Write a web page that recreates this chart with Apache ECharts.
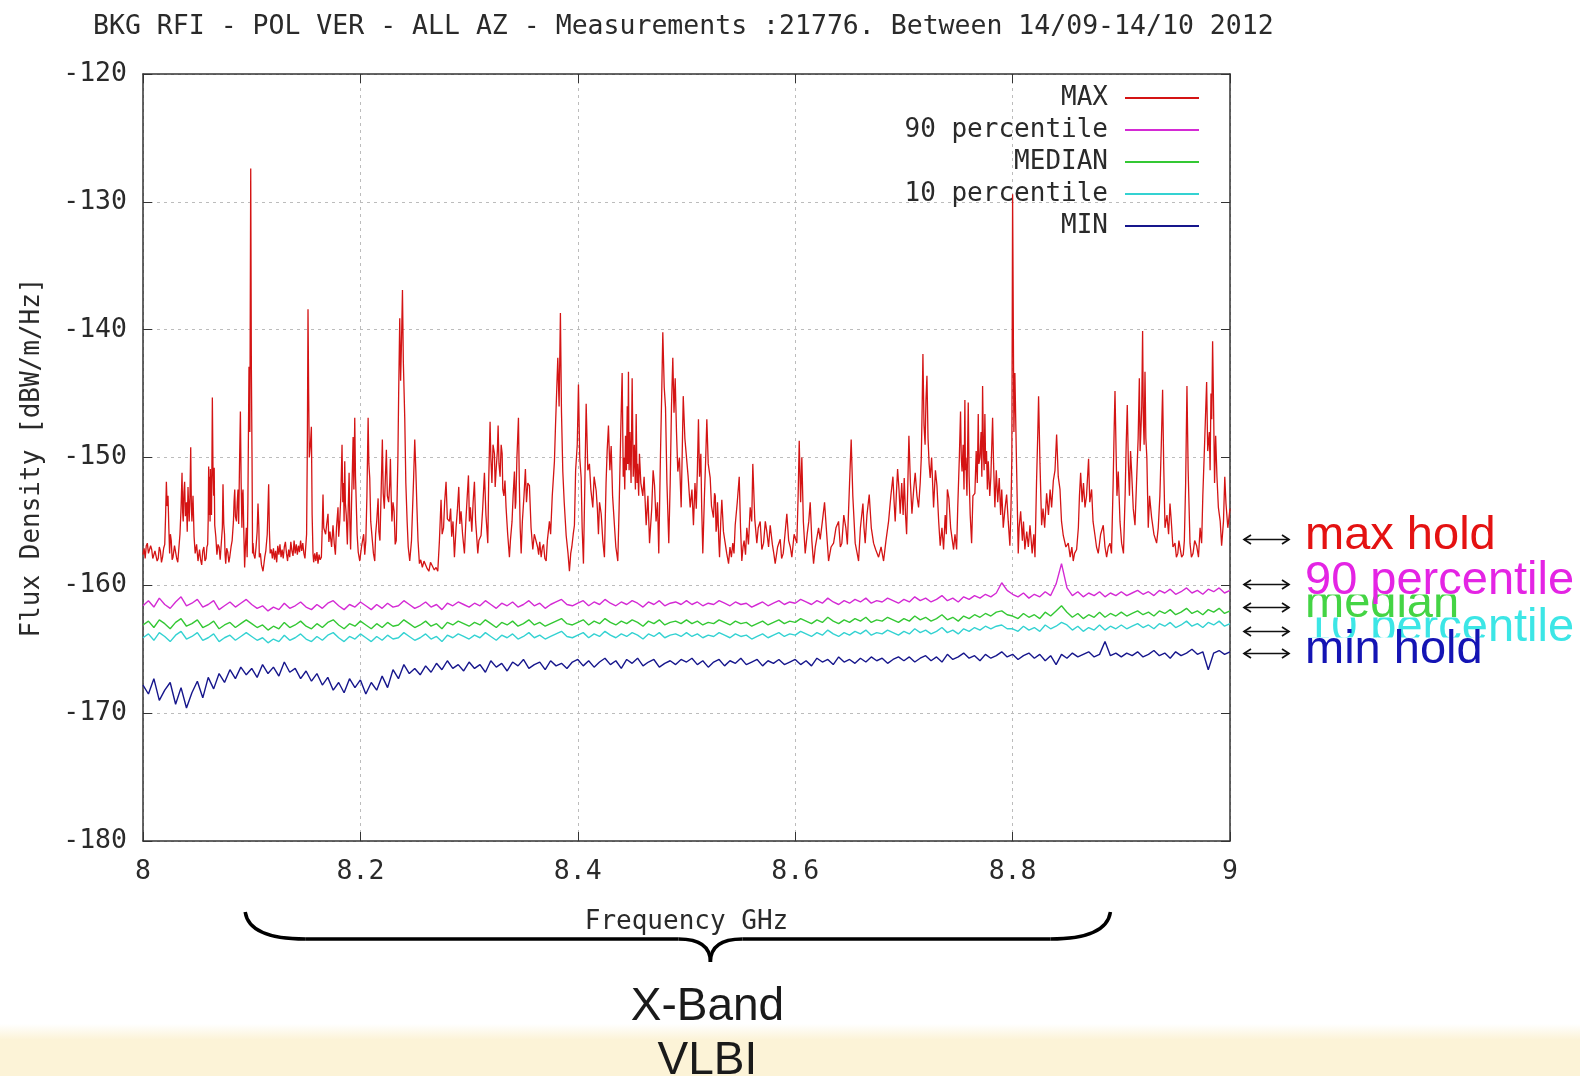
<!DOCTYPE html>
<html>
<head>
<meta charset="utf-8">
<script src="https://cdn.jsdelivr.net/npm/echarts/dist/echarts.min.js"></script>
<style>
  html, body { margin: 0; padding: 0; }
  body {
    width: 1580px; height: 1076px; overflow: hidden;
    background: linear-gradient(to bottom, #ffffff 0, #ffffff 1024px, #fcf3d7 1040px, #fcf3d7 100%);
  }
  #chart { width: 1580px; height: 1076px; }
</style>
</head>
<body>
<div id="chart"></div>
<script>
// ---- Spectrum levels, dBW/m/Hz, 8-9 GHz, vertical polarisation ----

// MAX hold: [frequency GHz, level]
const maxHold = [
  [8.000,-157.6],[8.001,-157.1],[8.002,-157.9],[8.003,-156.9],[8.004,-156.7],[8.005,-157.5],[8.006,-157.6],[8.007,-156.9],
  [8.008,-157.2],[8.009,-157.9],[8.010,-158.0],[8.011,-157.3],[8.012,-157.4],[8.013,-158.1],[8.014,-157.9],[8.015,-157.0],
  [8.016,-157.3],[8.017,-158.2],[8.018,-157.8],[8.019,-157.1],[8.020,-156.8],[8.0208,-154.5],[8.0215,-151.9],[8.0222,-153.8],
  [8.023,-153.0],[8.0238,-155.6],[8.0245,-157.5],[8.0252,-156.0],[8.026,-156.5],[8.0268,-158.0],[8.0276,-157.8],[8.029,-156.9],
  [8.030,-157.0],[8.031,-157.9],[8.032,-158.2],[8.033,-157.1],[8.034,-156.0],[8.035,-154.0],[8.0359,-151.2],[8.0365,-154.3],
  [8.037,-155.0],[8.0376,-152.8],[8.0383,-151.9],[8.039,-154.6],[8.040,-153.5],[8.0407,-155.8],[8.0414,-152.3],[8.0425,-155.0],
  [8.0432,-153.0],[8.0439,-149.2],[8.0445,-153.8],[8.045,-155.0],[8.046,-153.0],[8.047,-156.2],[8.048,-157.5],[8.0493,-156.8],
  [8.0506,-158.1],[8.052,-157.2],[8.053,-158.0],[8.054,-158.4],[8.055,-157.3],[8.056,-157.0],[8.057,-158.1],[8.058,-157.9],
  [8.0588,-157.0],[8.0595,-156.8],[8.0600,-154.8],[8.0604,-150.7],[8.0608,-154.5],[8.0612,-151.5],[8.0617,-155.0],[8.062,-150.9],
  [8.0625,-153.8],[8.063,-154.5],[8.0634,-150.5],[8.0638,-145.3],[8.0644,-151.0],[8.065,-153.0],[8.0655,-150.8],[8.066,-155.3],
  [8.067,-156.2],[8.068,-157.6],[8.069,-156.8],[8.070,-157.0],[8.071,-158.0],[8.072,-157.9],[8.073,-155.5],[8.0736,-152.1],
  [8.0743,-155.2],[8.075,-156.0],[8.0755,-157.6],[8.0761,-158.3],[8.077,-157.1],[8.078,-157.4],[8.079,-158.2],[8.0798,-157.8],
  [8.081,-157.0],[8.082,-156.5],[8.0832,-155.0],[8.0838,-153.4],[8.0844,-152.5],[8.085,-154.6],[8.086,-155.0],[8.0867,-153.5],
  [8.0874,-152.5],[8.088,-155.2],[8.0888,-150.5],[8.0896,-146.4],[8.0903,-152.0],[8.091,-155.5],[8.0915,-153.0],[8.092,-152.5],
  [8.0928,-156.0],[8.0935,-158.6],[8.0943,-156.8],[8.0951,-155.5],[8.0958,-157.8],[8.0965,-153.5],[8.0975,-142.9],[8.0983,-148.0],
  [8.0991,-127.4],[8.0997,-143.0],[8.1003,-150.0],[8.1008,-157.5],[8.1012,-156.7],[8.102,-157.6],[8.103,-157.9],[8.104,-157.0],
  [8.105,-155.8],[8.1058,-153.6],[8.1066,-155.5],[8.107,-157.8],[8.108,-157.5],[8.109,-158.4],[8.1104,-158.9],[8.112,-157.8],
  [8.113,-157.3],[8.1143,-156.0],[8.1156,-152.1],[8.1163,-155.8],[8.117,-157.5],[8.1181,-157.2],[8.119,-157.9],[8.120,-157.1],
  [8.121,-158.0],[8.122,-157.3],[8.123,-158.2],[8.124,-156.9],[8.125,-157.6],[8.126,-156.8],[8.127,-157.8],[8.128,-157.2],
  [8.129,-157.9],[8.130,-157.0],[8.131,-156.6],[8.132,-157.5],[8.133,-158.1],[8.134,-157.2],[8.135,-157.8],[8.136,-156.6],
  [8.137,-157.3],[8.138,-157.7],[8.139,-156.5],[8.140,-157.5],[8.141,-156.8],[8.142,-157.6],[8.143,-156.9],[8.144,-157.4],
  [8.145,-156.5],[8.146,-157.3],[8.147,-156.7],[8.148,-157.5],[8.149,-157.9],[8.1505,-156.0],[8.1512,-149.0],[8.1518,-138.4],
  [8.1524,-145.0],[8.153,-150.0],[8.154,-149.0],[8.1549,-147.6],[8.1556,-154.5],[8.1564,-157.5],[8.157,-158.2],[8.158,-157.5],
  [8.159,-158.1],[8.160,-157.4],[8.161,-158.3],[8.162,-157.6],[8.163,-158.0],[8.1641,-157.8],[8.1648,-155.8],[8.1656,-152.9],
  [8.1663,-155.5],[8.168,-156.0],[8.169,-155.2],[8.1702,-154.4],[8.171,-156.6],[8.172,-155.8],[8.1735,-157.0],[8.1748,-155.3],
  [8.176,-156.8],[8.177,-157.6],[8.178,-155.5],[8.1794,-153.9],[8.180,-156.2],[8.181,-155.0],[8.182,-153.0],[8.1831,-149.0],
  [8.1838,-153.5],[8.1845,-152.0],[8.185,-155.0],[8.1856,-150.3],[8.1862,-153.6],[8.187,-154.5],[8.188,-156.8],[8.1896,-151.2],
  [8.1903,-155.0],[8.191,-157.2],[8.192,-153.0],[8.1926,-151.0],[8.1933,-148.4],[8.194,-152.5],[8.1948,-146.9],[8.1955,-151.5],
  [8.197,-156.0],[8.198,-157.4],[8.1994,-158.1],[8.201,-157.0],[8.202,-157.0],[8.203,-156.0],[8.204,-157.6],[8.205,-156.5],
  [8.206,-153.0],[8.2071,-146.9],[8.2078,-150.5],[8.2086,-151.6],[8.2095,-155.0],[8.211,-156.5],[8.212,-157.5],[8.2132,-158.1],
  [8.214,-156.0],[8.215,-155.0],[8.2163,-153.2],[8.217,-155.8],[8.218,-156.5],[8.219,-153.0],[8.2202,-148.6],[8.221,-152.8],
  [8.222,-154.0],[8.223,-151.5],[8.2239,-149.4],[8.2248,-153.0],[8.226,-153.5],[8.227,-152.0],[8.2276,-150.1],[8.2283,-153.0],
  [8.229,-155.0],[8.230,-153.5],[8.231,-154.2],[8.232,-156.8],[8.233,-156.5],[8.2345,-150.0],[8.2352,-145.0],[8.2362,-139.1],
  [8.237,-144.0],[8.2378,-141.0],[8.2387,-136.9],[8.2395,-142.5],[8.2408,-146.9],[8.2418,-152.0],[8.243,-155.0],[8.244,-157.0],
  [8.2454,-158.1],[8.247,-156.5],[8.248,-154.0],[8.249,-151.5],[8.250,-148.6],[8.251,-151.0],[8.252,-153.9],[8.253,-156.5],
  [8.2543,-158.3],[8.2555,-158.0],[8.257,-158.6],[8.2585,-158.1],[8.260,-158.2],[8.2615,-158.7],[8.263,-158.9],[8.2645,-158.2],
  [8.266,-158.3],[8.268,-158.8],[8.2696,-158.6],[8.2712,-158.9],[8.2727,-156.5],[8.2742,-153.3],[8.2752,-156.0],[8.2765,-155.5],
  [8.2775,-153.5],[8.2788,-151.9],[8.280,-154.8],[8.2819,-155.0],[8.283,-154.0],[8.284,-156.2],[8.2852,-155.0],[8.2865,-157.8],
  [8.288,-155.5],[8.2893,-154.0],[8.2905,-152.3],[8.2915,-155.2],[8.2926,-154.2],[8.294,-156.0],[8.2957,-157.5],[8.297,-155.0],
  [8.2983,-153.0],[8.2994,-151.4],[8.3003,-155.0],[8.3012,-153.9],[8.3025,-155.8],[8.3037,-153.5],[8.3049,-151.9],[8.306,-155.0],
  [8.307,-156.2],[8.308,-157.5],[8.309,-156.5],[8.311,-156.1],[8.3125,-154.0],[8.3141,-151.2],[8.3155,-154.5],[8.3172,-156.7],
  [8.318,-152.0],[8.3193,-147.2],[8.320,-150.0],[8.321,-152.0],[8.322,-149.0],[8.3233,-149.7],[8.324,-152.3],[8.325,-150.8],
  [8.326,-149.5],[8.3267,-147.5],[8.3275,-150.5],[8.3285,-151.5],[8.3295,-149.0],[8.3304,-149.7],[8.331,-152.5],[8.332,-153.0],
  [8.333,-151.8],[8.334,-153.9],[8.3355,-156.0],[8.3371,-157.8],[8.338,-156.5],[8.3395,-155.0],[8.3405,-153.0],[8.3417,-151.1],
  [8.3425,-154.0],[8.343,-153.5],[8.344,-150.0],[8.3454,-146.9],[8.3462,-152.0],[8.347,-155.5],[8.3479,-157.5],[8.349,-155.0],
  [8.3505,-153.0],[8.3518,-150.9],[8.3528,-153.5],[8.354,-152.0],[8.3555,-152.2],[8.357,-155.5],[8.3586,-157.2],[8.360,-156.0],
  [8.3617,-156.1],[8.363,-157.0],[8.364,-157.6],[8.365,-156.6],[8.3663,-157.8],[8.3675,-157.0],[8.3685,-156.8],[8.3697,-157.9],
  [8.3709,-158.1],[8.372,-156.5],[8.3739,-155.0],[8.375,-156.0],[8.3765,-153.0],[8.3785,-150.3],[8.3795,-147.5],[8.3805,-145.0],
  [8.3816,-142.2],[8.3828,-146.0],[8.384,-138.7],[8.385,-146.5],[8.3862,-151.1],[8.3875,-153.5],[8.3893,-156.1],[8.391,-157.5],
  [8.3923,-158.9],[8.3935,-157.5],[8.3945,-157.0],[8.3958,-156.0],[8.3969,-155.3],[8.398,-151.0],[8.3995,-149.0],[8.4006,-144.3],
  [8.4018,-150.0],[8.4031,-151.6],[8.404,-155.5],[8.4052,-158.3],[8.4065,-152.0],[8.4077,-145.8],[8.4092,-151.0],[8.4107,-150.5],
  [8.412,-152.5],[8.4138,-153.9],[8.415,-151.5],[8.4169,-152.6],[8.418,-154.0],[8.419,-156.0],[8.420,-153.5],[8.4215,-154.4],
  [8.423,-156.5],[8.4245,-157.8],[8.426,-152.0],[8.427,-149.5],[8.4282,-147.5],[8.4295,-151.0],[8.4307,-149.1],[8.432,-153.0],
  [8.4337,-155.3],[8.435,-157.0],[8.4368,-158.1],[8.438,-154.0],[8.4395,-148.0],[8.4408,-143.4],[8.4418,-151.5],[8.4425,-150.0],
  [8.4432,-152.5],[8.4439,-148.3],[8.4447,-151.0],[8.4455,-146.0],[8.446,-150.5],[8.4466,-143.3],[8.4472,-151.0],[8.448,-148.0],
  [8.449,-152.0],[8.450,-143.8],[8.451,-151.5],[8.452,-149.0],[8.453,-152.5],[8.4537,-146.6],[8.4545,-152.0],[8.455,-150.5],
  [8.456,-153.0],[8.4567,-149.7],[8.458,-152.0],[8.4598,-153.0],[8.461,-151.5],[8.4629,-155.3],[8.4645,-153.0],[8.466,-156.7],
  [8.468,-154.0],[8.4693,-151.0],[8.4706,-152.2],[8.472,-155.0],[8.4733,-153.5],[8.4745,-157.5],[8.476,-150.0],[8.4772,-145.0],
  [8.4782,-140.2],[8.4795,-144.5],[8.4807,-146.1],[8.482,-152.0],[8.4837,-156.7],[8.485,-152.0],[8.4862,-146.0],[8.4874,-142.2],
  [8.4885,-146.5],[8.4896,-143.8],[8.4908,-148.0],[8.492,-151.1],[8.4935,-150.0],[8.4951,-153.9],[8.4962,-149.0],[8.497,-145.2],
  [8.4985,-148.5],[8.4997,-149.7],[8.5015,-151.5],[8.5034,-153.9],[8.505,-152.5],[8.5064,-155.3],[8.5078,-152.0],[8.509,-154.0],
  [8.510,-151.0],[8.511,-147.0],[8.512,-151.5],[8.5132,-149.7],[8.514,-154.0],[8.515,-157.5],[8.5165,-153.0],[8.5177,-150.0],
  [8.5187,-147.0],[8.520,-150.5],[8.5218,-151.6],[8.523,-153.8],[8.5248,-154.7],[8.5258,-152.8],[8.5265,-153.0],[8.5272,-155.8],
  [8.5279,-155.3],[8.5285,-153.5],[8.529,-154.5],[8.5297,-156.5],[8.5304,-157.8],[8.5315,-155.0],[8.5325,-153.3],[8.534,-155.8],
  [8.5356,-156.7],[8.537,-157.5],[8.5387,-158.3],[8.540,-157.0],[8.5413,-157.8],[8.5426,-156.7],[8.5437,-157.5],[8.5448,-155.3],
  [8.5467,-153.5],[8.5485,-151.5],[8.5497,-155.5],[8.5509,-158.1],[8.552,-157.0],[8.553,-156.5],[8.5543,-157.6],[8.5555,-155.5],
  [8.557,-156.8],[8.5586,-153.9],[8.560,-155.0],[8.561,-150.5],[8.5628,-154.8],[8.5647,-156.7],[8.566,-155.5],[8.5678,-155.0],
  [8.5693,-157.2],[8.5709,-156.7],[8.5725,-155.0],[8.5739,-155.8],[8.5755,-157.0],[8.577,-155.3],[8.579,-156.8],[8.5803,-157.5],
  [8.5816,-158.3],[8.5838,-157.0],[8.5862,-156.4],[8.5875,-157.9],[8.589,-157.5],[8.5906,-156.0],[8.5923,-154.4],[8.594,-156.5],
  [8.5955,-157.0],[8.5969,-157.8],[8.599,-156.0],[8.6015,-156.7],[8.6027,-153.0],[8.6037,-148.7],[8.605,-153.5],[8.6061,-150.0],
  [8.6075,-155.0],[8.6092,-157.5],[8.611,-156.0],[8.6125,-155.0],[8.6138,-153.5],[8.6153,-156.5],[8.6169,-158.3],[8.6185,-157.0],
  [8.620,-157.0],[8.6215,-155.5],[8.623,-156.4],[8.625,-155.0],[8.627,-153.5],[8.629,-156.0],[8.6307,-158.1],[8.633,-157.0],
  [8.6353,-156.7],[8.6375,-155.5],[8.6399,-155.0],[8.6415,-157.0],[8.6429,-156.7],[8.6447,-154.5],[8.6466,-155.5],[8.648,-156.8],
  [8.650,-152.0],[8.6515,-148.6],[8.653,-153.0],[8.6552,-156.7],[8.657,-157.5],[8.6583,-158.1],[8.660,-155.5],[8.6623,-153.6],
  [8.6633,-155.5],[8.6644,-156.7],[8.666,-154.5],[8.6681,-152.9],[8.670,-155.5],[8.6721,-156.7],[8.674,-157.2],[8.6767,-157.8],
  [8.679,-157.0],[8.6813,-158.1],[8.6835,-156.5],[8.6859,-155.0],[8.688,-153.0],[8.6899,-151.5],[8.691,-153.5],[8.692,-155.0],
  [8.693,-153.0],[8.6942,-150.9],[8.6955,-152.5],[8.6966,-154.4],[8.698,-152.0],[8.6993,-154.5],[8.7003,-151.6],[8.7015,-154.5],
  [8.7025,-156.0],[8.7035,-152.5],[8.7046,-148.3],[8.706,-152.0],[8.7074,-154.4],[8.709,-152.5],[8.7104,-151.2],[8.712,-153.0],
  [8.7135,-153.9],[8.715,-152.0],[8.716,-150.0],[8.7168,-146.0],[8.7175,-141.9],[8.7185,-147.5],[8.7195,-149.0],[8.7203,-145.5],
  [8.7212,-143.6],[8.7222,-148.5],[8.7232,-150.5],[8.7242,-151.6],[8.7255,-150.0],[8.7273,-153.9],[8.729,-151.0],[8.7304,-152.2],
  [8.732,-155.0],[8.7334,-156.9],[8.735,-155.5],[8.7365,-157.2],[8.738,-154.5],[8.739,-156.0],[8.740,-152.5],[8.7414,-153.2],
  [8.743,-155.5],[8.7457,-157.2],[8.747,-156.0],[8.7485,-157.2],[8.7495,-154.0],[8.751,-150.0],[8.7521,-146.4],[8.7528,-150.0],
  [8.7535,-151.1],[8.7545,-149.0],[8.7553,-152.5],[8.7561,-145.5],[8.7566,-151.0],[8.757,-150.0],[8.758,-153.0],[8.7592,-145.7],
  [8.760,-151.5],[8.761,-154.5],[8.7623,-156.7],[8.7635,-153.0],[8.7653,-152.8],[8.7665,-149.5],[8.7675,-152.0],[8.7684,-146.6],
  [8.769,-150.5],[8.770,-150.0],[8.771,-148.0],[8.7717,-151.5],[8.7724,-144.4],[8.7732,-149.5],[8.7738,-151.0],[8.7745,-146.6],
  [8.7752,-150.5],[8.776,-149.5],[8.7768,-152.5],[8.7776,-150.3],[8.779,-153.0],[8.780,-151.5],[8.7816,-146.9],[8.7825,-150.5],
  [8.7837,-153.9],[8.785,-151.0],[8.7863,-153.5],[8.7877,-151.6],[8.789,-154.5],[8.790,-152.5],[8.7914,-155.5],[8.793,-154.0],
  [8.7945,-152.9],[8.796,-155.0],[8.7975,-156.9],[8.7985,-154.0],[8.7993,-150.0],[8.800,-129.4],[8.8012,-148.0],[8.8021,-143.4],
  [8.8035,-150.0],[8.8045,-154.5],[8.8052,-157.5],[8.806,-155.5],[8.8074,-154.2],[8.809,-156.5],[8.810,-155.0],[8.8113,-157.2],
  [8.813,-155.8],[8.8145,-157.0],[8.816,-155.3],[8.818,-157.5],[8.8195,-156.0],[8.8206,-157.8],[8.822,-152.0],[8.8232,-148.0],
  [8.8239,-145.2],[8.8252,-150.5],[8.8267,-155.3],[8.828,-154.0],[8.8295,-155.5],[8.8313,-152.8],[8.833,-154.5],[8.8345,-152.5],
  [8.8359,-153.9],[8.8375,-151.8],[8.839,-151.0],[8.8405,-148.2],[8.842,-151.5],[8.8436,-152.5],[8.845,-155.0],[8.8466,-156.1],
  [8.849,-157.0],[8.8512,-156.7],[8.853,-157.8],[8.8545,-157.0],[8.8558,-158.1],[8.857,-157.5],[8.8589,-157.2],[8.8605,-155.5],
  [8.8615,-153.0],[8.8626,-151.2],[8.864,-153.5],[8.8652,-152.0],[8.8666,-153.9],[8.868,-153.0],[8.8699,-150.1],[8.871,-153.5],
  [8.8727,-152.5],[8.874,-155.0],[8.8758,-156.1],[8.8772,-157.0],[8.8788,-157.5],[8.881,-156.0],[8.8834,-155.3],[8.885,-157.0],
  [8.8865,-157.8],[8.888,-157.0],[8.8896,-156.7],[8.891,-157.5],[8.8925,-152.0],[8.8935,-147.5],[8.8942,-144.8],[8.8952,-149.5],
  [8.896,-153.0],[8.8972,-151.1],[8.8988,-155.0],[8.9003,-156.7],[8.902,-157.5],[8.9035,-153.0],[8.9045,-149.0],[8.9055,-145.9],
  [8.9065,-150.5],[8.9075,-153.0],[8.9085,-149.5],[8.9095,-151.1],[8.911,-154.0],[8.9126,-155.3],[8.914,-152.0],[8.9155,-148.5],
  [8.9166,-143.8],[8.9173,-149.5],[8.918,-148.0],[8.9188,-146.0],[8.9196,-140.1],[8.9203,-147.0],[8.921,-149.0],[8.9218,-143.3],
  [8.9226,-148.5],[8.9235,-150.0],[8.9242,-153.0],[8.9248,-155.5],[8.926,-153.0],[8.9279,-154.7],[8.930,-156.0],[8.9325,-156.7],
  [8.934,-155.5],[8.9355,-153.0],[8.9368,-149.0],[8.938,-144.7],[8.939,-150.5],[8.9402,-155.5],[8.942,-154.5],[8.9435,-156.0],
  [8.9448,-153.6],[8.946,-155.0],[8.9475,-157.0],[8.9494,-156.7],[8.9507,-157.8],[8.952,-157.5],[8.953,-156.5],[8.954,-156.4],
  [8.9555,-157.8],[8.957,-157.6],[8.958,-156.5],[8.9592,-152.0],[8.9604,-144.4],[8.9615,-151.0],[8.9632,-156.7],[8.9645,-157.8],
  [8.966,-157.5],[8.9675,-156.5],[8.9693,-156.9],[8.971,-157.8],[8.9725,-155.5],[8.9739,-156.7],[8.975,-153.0],[8.9768,-148.5],
  [8.9785,-144.1],[8.9795,-149.5],[8.981,-148.0],[8.9817,-151.0],[8.9825,-145.0],[8.9832,-147.0],[8.984,-140.9],[8.9848,-145.5],
  [8.9858,-152.0],[8.9868,-148.3],[8.988,-151.5],[8.9893,-153.9],[8.991,-155.0],[8.9923,-156.9],[8.994,-155.0],[8.9952,-151.5],
  [8.9963,-153.6],[8.998,-155.5],[9.000,-154.0]
];

// Percentile / MIN sweeps: one level every 5 MHz from 8.000 GHz
const sweepStartGHz = 8.0;
const sweepStepGHz = 0.005;

const p90Level = [
  -161.6,-161.2,-161.7,-161.0,-161.5,-161.8,-161.3,-160.9,-161.6,-161.4,-161.1,-161.7,-161.5,-161.2,-161.9,-161.6,-161.3,-161.7,-161.4,-161.1,
  -161.5,-161.8,-161.6,-162.0,-161.7,-161.9,-161.4,-161.8,-161.6,-161.3,-161.7,-161.9,-161.5,-161.8,-161.4,-161.2,-161.6,-161.9,-161.5,-161.7,
  -161.3,-161.6,-161.9,-161.5,-161.8,-161.4,-161.7,-161.6,-161.2,-161.5,-161.8,-161.6,-161.3,-161.7,-161.5,-161.9,-161.4,-161.6,-161.3,-161.5,
  -161.7,-161.4,-161.6,-161.2,-161.5,-161.8,-161.4,-161.6,-161.3,-161.7,-161.5,-161.2,-161.6,-161.4,-161.8,-161.5,-161.3,-161.1,-161.5,-161.6,
  -161.4,-161.2,-161.6,-161.3,-161.5,-161.1,-161.4,-161.6,-161.3,-161.5,-161.2,-161.4,-161.7,-161.3,-161.5,-161.2,-161.6,-161.4,-161.3,-161.5,
  -161.2,-161.5,-161.3,-161.6,-161.4,-161.5,-161.2,-161.4,-161.6,-161.3,-161.5,-161.4,-161.7,-161.5,-161.3,-161.6,-161.4,-161.2,-161.5,-161.3,
  -161.4,-161.1,-161.3,-161.5,-161.2,-161.4,-161.0,-161.3,-161.5,-161.2,-161.4,-161.1,-161.3,-161.0,-161.4,-161.2,-161.3,-161.0,-161.2,-161.4,
  -161.1,-161.3,-160.9,-161.2,-161.0,-161.3,-161.1,-160.8,-161.2,-161.0,-161.3,-160.9,-161.1,-160.8,-161.0,-160.7,-160.9,-160.6,-159.8,-160.4,
  -160.7,-160.9,-160.6,-161.0,-160.7,-160.9,-160.5,-160.8,-159.9,-158.3,-160.2,-160.8,-160.5,-160.9,-160.6,-160.8,-160.5,-160.9,-160.6,-160.8,
  -160.5,-160.8,-160.6,-160.4,-160.7,-160.5,-160.8,-160.4,-160.6,-160.3,-160.7,-160.5,-160.2,-160.6,-160.4,-160.7,-160.3,-160.5,-160.2,-160.6,
  -160.4
];

const medianLevel = [
  -163.1,-162.8,-163.3,-162.7,-163.0,-163.4,-162.9,-162.6,-163.2,-163.0,-162.7,-163.3,-163.1,-162.8,-163.4,-163.1,-162.9,-163.3,-163.0,-162.7,
  -163.0,-163.3,-163.1,-163.5,-163.2,-163.4,-162.9,-163.3,-163.1,-162.8,-163.2,-163.4,-163.0,-163.3,-162.9,-162.7,-163.1,-163.4,-163.0,-163.2,
  -162.8,-163.1,-163.4,-163.0,-163.3,-162.9,-163.2,-163.1,-162.7,-163.0,-163.3,-163.1,-162.8,-163.2,-163.0,-163.4,-162.9,-163.1,-162.8,-163.0,
  -163.2,-162.9,-163.1,-162.7,-163.0,-163.3,-162.9,-163.1,-162.8,-163.2,-163.0,-162.7,-163.1,-162.9,-163.2,-163.0,-162.8,-162.6,-163.0,-163.1,
  -162.9,-162.7,-163.1,-162.8,-163.0,-162.6,-162.9,-163.1,-162.8,-163.0,-162.7,-162.9,-163.2,-162.8,-163.0,-162.7,-163.1,-162.9,-162.8,-163.0,
  -162.7,-163.0,-162.8,-163.1,-162.9,-163.0,-162.7,-162.9,-163.1,-162.8,-163.0,-162.9,-163.2,-163.0,-162.8,-163.1,-162.9,-162.7,-163.0,-162.8,
  -162.9,-162.6,-162.8,-163.0,-162.7,-162.9,-162.5,-162.8,-163.0,-162.7,-162.9,-162.6,-162.8,-162.5,-162.9,-162.7,-162.8,-162.5,-162.7,-162.9,
  -162.6,-162.8,-162.4,-162.7,-162.5,-162.8,-162.6,-162.3,-162.7,-162.5,-162.8,-162.4,-162.6,-162.3,-162.5,-162.2,-162.4,-162.1,-162.0,-162.3,
  -162.4,-162.6,-162.2,-162.5,-162.3,-162.6,-162.1,-162.4,-162.0,-161.6,-162.1,-162.5,-162.2,-162.6,-162.3,-162.5,-162.1,-162.5,-162.2,-162.4,
  -162.1,-162.4,-162.2,-162.0,-162.3,-162.1,-162.4,-162.0,-162.2,-161.9,-162.3,-162.1,-161.8,-162.2,-162.0,-162.3,-161.9,-162.1,-161.8,-162.2,
  -162.0
];

const p10Level = [
  -164.1,-163.8,-164.3,-163.7,-164.0,-164.4,-163.9,-163.6,-164.2,-164.0,-163.7,-164.3,-164.1,-163.8,-164.4,-164.1,-163.9,-164.3,-164.0,-163.7,
  -164.0,-164.3,-164.1,-164.5,-164.2,-164.4,-163.9,-164.3,-164.1,-163.8,-164.2,-164.4,-164.0,-164.3,-163.9,-163.7,-164.1,-164.4,-164.0,-164.2,
  -163.8,-164.1,-164.4,-164.0,-164.3,-163.9,-164.2,-164.1,-163.7,-164.0,-164.3,-164.1,-163.8,-164.2,-164.0,-164.4,-163.9,-164.1,-163.8,-164.0,
  -164.2,-163.9,-164.1,-163.7,-164.0,-164.3,-163.9,-164.1,-163.8,-164.2,-164.0,-163.7,-164.1,-163.9,-164.2,-164.0,-163.8,-163.6,-164.0,-164.1,
  -163.9,-163.7,-164.1,-163.8,-164.0,-163.6,-163.9,-164.1,-163.8,-164.0,-163.7,-163.9,-164.2,-163.8,-164.0,-163.7,-164.1,-163.9,-163.8,-164.0,
  -163.7,-164.0,-163.8,-164.1,-163.9,-164.0,-163.7,-163.9,-164.1,-163.8,-164.0,-163.9,-164.2,-164.0,-163.8,-164.1,-163.9,-163.7,-164.0,-163.8,
  -163.9,-163.6,-163.8,-164.0,-163.7,-163.9,-163.5,-163.8,-164.0,-163.7,-163.9,-163.6,-163.8,-163.5,-163.9,-163.7,-163.8,-163.5,-163.7,-163.9,
  -163.6,-163.8,-163.4,-163.7,-163.5,-163.8,-163.6,-163.3,-163.7,-163.5,-163.8,-163.4,-163.6,-163.3,-163.5,-163.2,-163.4,-163.2,-163.1,-163.4,
  -163.4,-163.6,-163.2,-163.5,-163.3,-163.6,-163.1,-163.4,-163.2,-162.9,-163.1,-163.5,-163.2,-163.6,-163.3,-163.5,-163.1,-163.5,-163.2,-163.4,
  -163.1,-163.4,-163.2,-163.0,-163.3,-163.1,-163.4,-163.0,-163.2,-162.9,-163.3,-163.1,-162.8,-163.2,-163.0,-163.3,-162.9,-163.1,-162.8,-163.2,
  -163.0
];

const minLevel = [
  -167.8,-168.5,-167.3,-169.0,-168.2,-167.6,-169.3,-168.0,-169.6,-168.4,-167.5,-168.8,-167.2,-168.1,-166.9,-167.6,-166.6,-167.3,-166.4,-167.0,
  -166.5,-167.2,-166.2,-166.9,-166.4,-167.1,-166.0,-166.8,-166.5,-167.3,-166.7,-167.5,-166.9,-167.8,-167.2,-168.2,-167.6,-168.4,-167.3,-168.0,
  -167.4,-168.5,-167.6,-168.2,-167.1,-168.0,-166.6,-167.3,-166.2,-166.9,-166.5,-167.0,-166.3,-166.8,-166.1,-166.6,-165.9,-166.5,-166.2,-166.7,
  -166.0,-166.5,-166.2,-166.8,-165.9,-166.4,-166.1,-166.7,-166.0,-166.3,-165.8,-166.5,-166.2,-166.0,-166.6,-165.9,-166.3,-166.1,-166.5,-166.0,
  -165.8,-166.3,-165.9,-166.4,-166.0,-165.7,-166.2,-165.9,-166.5,-165.8,-166.1,-165.7,-166.3,-166.0,-165.8,-166.4,-166.1,-165.9,-166.2,-165.8,
  -166.0,-165.7,-166.2,-165.9,-166.4,-166.0,-165.8,-166.3,-165.9,-166.1,-165.7,-166.2,-166.0,-165.8,-166.3,-165.9,-166.1,-165.8,-166.2,-166.0,
  -165.8,-166.2,-165.9,-166.3,-165.7,-166.0,-165.8,-166.2,-165.6,-166.0,-165.8,-166.1,-165.7,-166.0,-165.6,-165.9,-165.7,-166.1,-165.8,-165.6,
  -165.9,-165.6,-166.0,-165.7,-165.5,-165.9,-165.6,-166.0,-165.4,-165.8,-165.6,-165.3,-165.7,-165.5,-165.9,-165.4,-165.7,-165.5,-165.2,-165.6,
  -165.4,-165.8,-165.5,-165.3,-165.7,-165.4,-165.9,-165.5,-166.2,-165.4,-165.7,-165.3,-165.6,-165.4,-165.2,-165.6,-165.4,-164.4,-165.5,-165.3,
  -165.6,-165.3,-165.5,-165.2,-165.6,-165.4,-165.1,-165.5,-165.3,-165.7,-165.2,-165.5,-165.3,-165.0,-165.4,-165.2,-166.6,-165.3,-165.1,-165.4,
  -165.2
];

// Side labels pointing at each trace's level at the band edge (drawn in this order)
const holdMarkers = [
  { label: 'max hold',      level: -156.4, color: '#e41212' },
  { label: '10 percentile', level: -163.6, color: '#3ce6e6' },
  { label: 'median',        level: -161.7, color: '#44d444' },
  { label: '90 percentile', level: -159.9, color: '#e424e4' },
  { label: 'min hold',      level: -165.3, color: '#1414b4' }
];

const titleText = 'BKG RFI - POL VER - ALL AZ - Measurements :21776. Between 14/09-14/10 2012';

const MONO = '"DejaVu Sans Mono", "Liberation Mono", monospace';
const SANS = '"Liberation Sans", Arial, "DejaVu Sans", sans-serif';

function sweep(levels) {
  return levels.map((v, i) => [+(sweepStartGHz + i * sweepStepGHz).toFixed(3), v]);
}

const traces = [
  { name: 'MAX',           data: maxHold,             color: '#d41414', width: 1.3 },
  { name: '90 percentile', data: sweep(p90Level),     color: '#d42ad4', width: 1.4 },
  { name: 'MEDIAN',        data: sweep(medianLevel),  color: '#34c834', width: 1.4 },
  { name: '10 percentile', data: sweep(p10Level),     color: '#34d2d2', width: 1.4 },
  { name: 'MIN',           data: sweep(minLevel),     color: '#16168c', width: 1.4 }
];

const axisColor = '#333';
const gridLine = { show: true, lineStyle: { color: '#bcbcbc', width: 1, type: [3, 4] } };
const tickLabel = { fontFamily: MONO, fontSize: 26.5, color: '#2a2a2a' };

const chart = echarts.init(document.getElementById('chart'), null, { renderer: 'canvas' });

chart.setOption({
  animation: false,
  backgroundColor: 'transparent',
  title: {
    text: titleText, left: 93, top: 14, padding: 0,
    textStyle: { fontFamily: MONO, fontSize: 26.5, fontWeight: 'normal', color: '#2a2a2a' }
  },
  grid: { left: 143, right: 350, top: 74, bottom: 235, containLabel: false },
  legend: {
    orient: 'vertical', right: 381, top: 85, padding: 0,
    align: 'right', itemGap: 6, itemWidth: 74, itemHeight: 2, icon: 'rect',
    selectedMode: false,
    textStyle: { fontFamily: MONO, fontSize: 26, lineHeight: 26, color: '#2a2a2a', padding: [0, 12, 0, 0] },
    data: traces.map(t => t.name)
  },
  xAxis: [
    {
      type: 'value', min: 8, max: 9, interval: 0.2, position: 'bottom',
      axisLine: { show: true, onZero: false, lineStyle: { color: axisColor, width: 1.5 } },
      axisTick: { show: true, inside: true, length: 9, lineStyle: { color: axisColor } },
      axisLabel: Object.assign({ margin: 18,
        formatter: v => (Math.abs(v - Math.round(v)) < 1e-9 ? String(Math.round(v)) : v.toFixed(1)) }, tickLabel),
      splitLine: gridLine,
      name: 'Frequency GHz', nameLocation: 'middle', nameGap: 68,
      nameTextStyle: { fontFamily: MONO, fontSize: 26, color: '#2a2a2a' }
    },
    {
      type: 'value', min: 8, max: 9, interval: 0.2, position: 'top',
      axisLine: { show: true, onZero: false, lineStyle: { color: axisColor, width: 1.5 } },
      axisTick: { show: true, inside: true, length: 9, lineStyle: { color: axisColor } },
      axisLabel: { show: false }, splitLine: { show: false }
    }
  ],
  yAxis: [
    {
      type: 'value', min: -180, max: -120, interval: 10, position: 'left',
      axisLine: { show: true, onZero: false, lineStyle: { color: axisColor, width: 1.5 } },
      axisTick: { show: true, inside: true, length: 9, lineStyle: { color: axisColor } },
      axisLabel: Object.assign({ margin: 16 }, tickLabel),
      splitLine: gridLine,
      name: 'Flux Density [dBW/m/Hz]', nameLocation: 'middle', nameGap: 98,
      nameTextStyle: { fontFamily: MONO, fontSize: 26, color: '#2a2a2a' }
    },
    {
      type: 'value', min: -180, max: -120, interval: 10, position: 'right',
      axisLine: { show: true, onZero: false, lineStyle: { color: axisColor, width: 1.5 } },
      axisTick: { show: true, inside: true, length: 9, lineStyle: { color: axisColor } },
      axisLabel: { show: false }, splitLine: { show: false }
    }
  ],
  series: traces.map(t => ({
    name: t.name, type: 'line', xAxisIndex: 0, yAxisIndex: 0,
    data: t.data, symbol: 'none', showSymbol: false, smooth: false,
    lineStyle: { color: t.color, width: t.width }, itemStyle: { color: t.color },
    emphasis: { disabled: true }
  }))
});

// ---- Annotations positioned from the axis scales ----
const toPx = (f, v) => chart.convertToPixel({ xAxisIndex: 0, yAxisIndex: 0 }, [f, v]);
const bandEdgeX = toPx(9, -180)[0];
const axisY = toPx(8, -180)[1];
const elements = [];
const arrowStyle = { stroke: '#111', lineWidth: 1.7, fill: null };

holdMarkers.forEach((m, i) => {
  const y = Math.round(toPx(9, m.level)[1]) + 0.5;
  const a = bandEdgeX + 14, b = bandEdgeX + 59;
  elements.push(
    { type: 'line', z: 100, shape: { x1: a, y1: y, x2: b, y2: y }, style: arrowStyle },
    { type: 'polyline', z: 100, shape: { points: [[a + 7, y - 4.5], [a, y], [a + 7, y + 4.5]] }, style: arrowStyle },
    { type: 'polyline', z: 100, shape: { points: [[b - 7, y - 4.5], [b, y], [b - 7, y + 4.5]] }, style: arrowStyle }
  );
  elements.push({
    type: 'text', x: bandEdgeX + 75, y: y - 3, z: 110 + i,
    style: {
      text: m.label, font: '47px ' + SANS, fill: m.color,
      align: 'left', verticalAlign: 'middle',
      backgroundColor: '#ffffff', lineHeight: 26, padding: [0, 2, 0, 0]
    }
  });
});

// Brace spanning the X-band VLBI allocation
const L = toPx(8.094, -180)[0];
const M = toPx(8.522, -180)[0];
const R = toPx(8.890, -180)[0];
const yTip = axisY + 71, yBar = axisY + 98, yMid = axisY + 121;
const braceStyle = { stroke: '#000', lineWidth: 3.5, fill: null };
elements.push(
  { type: 'bezierCurve', shape: { x1: L, y1: yTip, cpx1: L + 4, cpy1: yBar, x2: L + 60, y2: yBar }, style: braceStyle },
  { type: 'line', shape: { x1: L + 60, y1: yBar, x2: M - 32, y2: yBar }, style: braceStyle },
  { type: 'bezierCurve', shape: { x1: M - 32, y1: yBar, cpx1: M, cpy1: yBar, x2: M, y2: yMid }, style: braceStyle },
  { type: 'bezierCurve', shape: { x1: M, y1: yMid, cpx1: M, cpy1: yBar, x2: M + 32, y2: yBar }, style: braceStyle },
  { type: 'line', shape: { x1: M + 32, y1: yBar, x2: R - 60, y2: yBar }, style: braceStyle },
  { type: 'bezierCurve', shape: { x1: R - 60, y1: yBar, cpx1: R - 4, cpy1: yBar, x2: R, y2: yTip }, style: braceStyle },
  { type: 'text', x: M - 3, y: axisY + 166,
    style: { text: 'X-Band', font: '46px ' + SANS, fill: '#1a1a1a', align: 'center', verticalAlign: 'middle' } },
  { type: 'text', x: M - 3, y: axisY + 220,
    style: { text: 'VLBI', font: '46px ' + SANS, fill: '#1a1a1a', align: 'center', verticalAlign: 'middle' } }
);

chart.setOption({ graphic: { elements: elements } });
</script>
</body>
</html>
